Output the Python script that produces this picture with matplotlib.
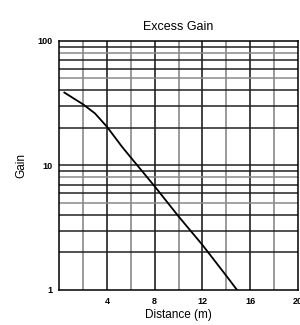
import matplotlib
matplotlib.use('Agg')
import matplotlib.pyplot as plt
import numpy as np

plt.rcParams['font.family'] = ['Liberation Sans', 'DejaVu Sans']

distance = [0.44, 2, 3, 4, 5.3, 6, 8, 10, 12, 14, 14.9]
gain = [38.5, 31, 26.2, 20.5, 14, 11.6, 6.8, 3.9, 2.3, 1.3, 1.0]
x_ticks = [4, 8, 12, 16, 20]
y_ticks = [1, 10, 100]
y_labels = ['1', '10', '100']


def main():
    fig = plt.figure(figsize=(3.0, 3.25), dpi=100)
    ax = fig.add_axes([0.197, 0.108, 0.796, 0.766])

    # vertical grid, alternating gray / black
    for i, xv in enumerate(np.arange(2, 20, 2)):
        col = '#8a8a8a' if i % 2 == 0 else '#222222'
        ax.axvline(xv, color=col, lw=1.2, zorder=1)
    # horizontal grid
    for dec in [1, 10]:
        for m in range(2, 11):
            yv = dec * m
            if yv >= 100:
                continue
            col = '#8a8a8a' if m in (5, 8) else '#222222'
            ax.axhline(yv, color=col, lw=1.1, zorder=1)

    ax.plot(distance, gain, color='black', lw=1.3, zorder=3)

    ax.set_yscale('log')
    ax.set_xlim(0, 20)
    ax.set_ylim(1, 100)
    ax.set_xticks(x_ticks)
    ax.set_yticks(y_ticks)
    ax.set_yticklabels(y_labels)
    ax.minorticks_off()
    ax.tick_params(length=0, labelsize=6.5, pad=5)
    for lab in ax.get_xticklabels() + ax.get_yticklabels():
        lab.set_fontweight('bold')
    for s in ax.spines.values():
        s.set_linewidth(1.1)

    ax.set_title("Excess Gain", fontsize=9, pad=8)
    ax.set_xlabel("Distance (m)", fontsize=8.5, labelpad=2)
    ax.set_ylabel("Gain", fontsize=8.5, labelpad=7)

    plt.savefig("out.png", dpi=100)


if __name__ == "__main__":
    main()
